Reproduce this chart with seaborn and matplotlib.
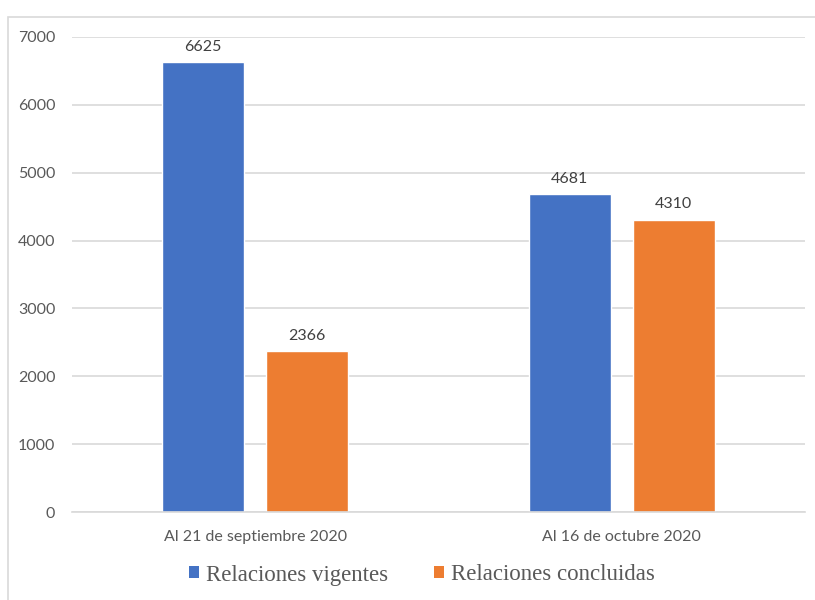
import matplotlib
matplotlib.use("Agg")
import matplotlib.pyplot as plt
from matplotlib.patches import Rectangle, Patch
import seaborn as sns
import pandas as pd

# Data
periods = ["Al 21 de septiembre 2020", "Al 16 de octubre 2020"]
series = ["Relaciones vigentes", "Relaciones concluidas"]
vigentes = [6625, 4681]
concluidas = [2366, 4310]
yticks = [0, 1000, 2000, 3000, 4000, 5000, 6000, 7000]
colors = ["#4472C4", "#ED7D31"]

df = pd.DataFrame({
    "periodo": periods * 2,
    "serie": [series[0]] * 2 + [series[1]] * 2,
    "valor": vigentes + concluidas,
})

sns.set_theme(style="white")
plt.rcParams["font.family"] = ["Lato", "DejaVu Sans"]

fig = plt.figure(figsize=(8.15, 6.0), dpi=100)
ax = fig.add_axes([72 / 815, 1 - 512 / 600, (805 - 72) / 815, (512 - 37) / 600])

sns.barplot(data=df, x="periodo", y="valor", hue="serie", order=periods,
            hue_order=series, palette=colors, width=0.567, gap=0.21,
            saturation=1, ax=ax, legend=False)

for cont in ax.containers:
    ax.bar_label(cont, fmt="%d", padding=6, fontsize=11.5, color="#404040")

ax.set_ylim(0, 7000)
ax.set_xlim(-0.5, 1.5)
ax.set_yticks(yticks)
ax.set_yticklabels([str(t) for t in yticks])
ax.yaxis.grid(True, color="#D9D9D9", linewidth=1.2)
ax.set_axisbelow(True)
for s in ["top", "right", "left"]:
    ax.spines[s].set_visible(False)
ax.spines["bottom"].set_color("#D9D9D9")
ax.spines["bottom"].set_linewidth(1.2)
ax.tick_params(axis="both", length=0, labelsize=11.5, labelcolor="#595959")
ax.tick_params(axis="y", pad=12)
ax.tick_params(axis="x", pad=13)
ax.set_xlabel("")
ax.set_ylabel("")

handles = [Patch(facecolor=c, edgecolor="none") for c in colors]
fig.legend(handles, series, loc="center", bbox_to_anchor=(422 / 815, 1 - 575 / 600),
           ncol=2, frameon=False, handlelength=0.45, handleheight=0.45,
           handletextpad=0.3, columnspacing=2.0,
           prop={"family": "Liberation Serif", "size": 16.5}, labelcolor="#595959")

# Chart area border
fig.add_artist(Rectangle((8 / 815, -0.02), 1.0, 1 - 17 / 600 + 0.02,
                         transform=fig.transFigure, fill=False,
                         edgecolor="#D9D9D9", linewidth=1.2))

fig.savefig("out.png", dpi=100)
